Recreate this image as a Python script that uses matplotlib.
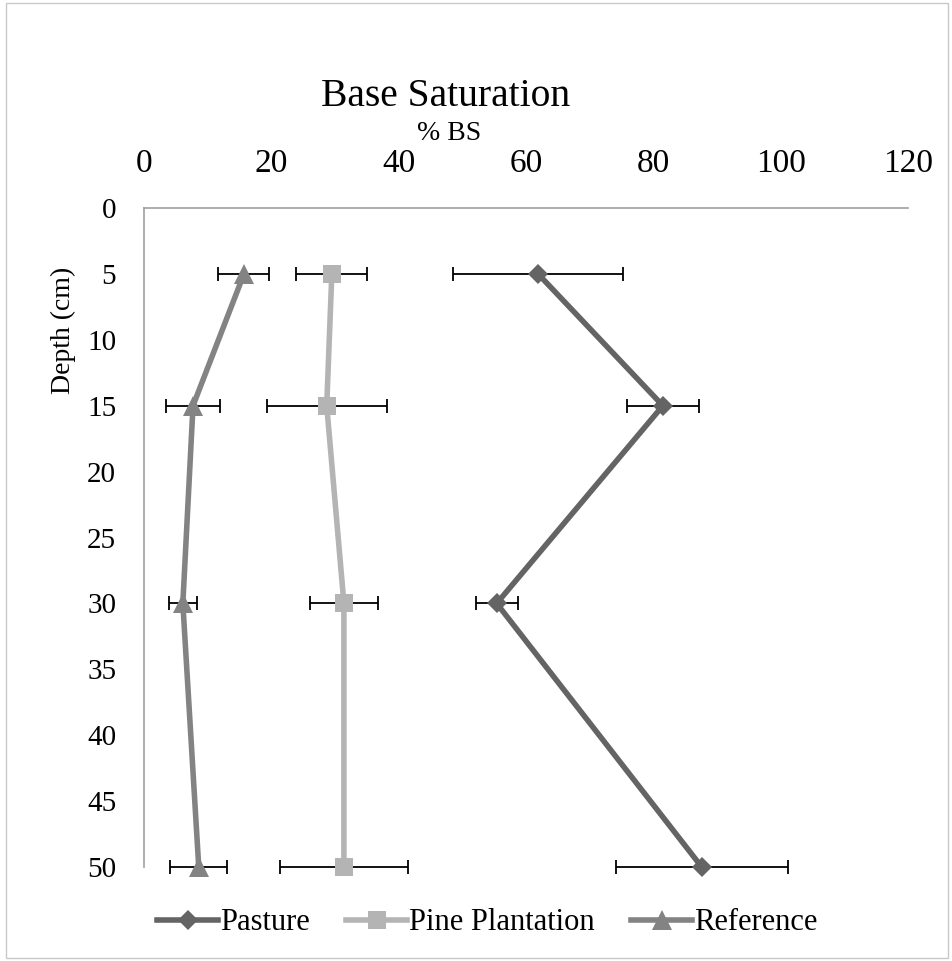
import numpy as np
import matplotlib
matplotlib.use("Agg")
import matplotlib.pyplot as plt
from matplotlib.patches import Rectangle

depth = [5, 15, 30, 50]

pasture = [61.9, 81.5, 55.4, 87.6]
pasture_err = [13.4, 5.6, 3.3, 13.5]

pine = [29.5, 28.7, 31.4, 31.4]
pine_err = [5.6, 9.4, 5.4, 10.0]

reference = [15.7, 7.7, 6.1, 8.6]
reference_err = [4.0, 4.2, 2.2, 4.5]

x_ticks = [0, 20, 40, 60, 80, 100, 120]
y_ticks = [0, 5, 10, 15, 20, 25, 30, 35, 40, 45, 50]

plt.rcParams["font.family"] = ["Liberation Serif", "DejaVu Serif"]

fig = plt.figure(figsize=(9.52, 9.61), dpi=100)
ax = fig.add_axes([144 / 952, 1 - 867 / 961, (908 - 144) / 952, (867 - 208) / 961])

series = [
    ("Pasture", pasture, pasture_err, "#646464", "D", 10),
    ("Pine Plantation", pine, pine_err, "#b4b4b4", "s", 13),
    ("Reference", reference, reference_err, "#838383", "^", 14),
]
handles = []
for name, vals, err, col, mk, ms in series:
    eb = ax.errorbar(vals, depth, xerr=err, fmt="none", ecolor="black",
                     elinewidth=1.3, capsize=5, capthick=1.3, zorder=2)
    for art in eb.get_children():
        art.set_clip_on(False)
    h, = ax.plot(vals, depth, color=col, linewidth=4, marker=mk,
                 markersize=ms, markeredgewidth=0, label=name, zorder=3,
                 clip_on=False)
    handles.append(h)

ax.set_xlim(0, 120)
ax.set_ylim(50, 0)
ax.set_xticks(x_ticks)
ax.set_yticks(y_ticks)
ax.xaxis.tick_top()
ax.tick_params(axis="x", length=0, pad=21, labelsize=24)
ax.tick_params(axis="y", length=0, pad=20, labelsize=21)
for s in ["right", "bottom"]:
    ax.spines[s].set_visible(False)
for s in ["top", "left"]:
    ax.spines[s].set_color("#a0a0a0")
    ax.spines[s].set_linewidth(1.2)

fig.text(446 / 952, 1 - 97 / 961, "Base Saturation", ha="center", va="center", fontsize=28.5)
fig.text(449 / 952, 1 - 133 / 961, "% BS", ha="center", va="center", fontsize=20)
fig.text(63 / 952, 1 - 330 / 961, "Depth (cm)", ha="center", va="center",
         rotation=90, fontsize=20)

fig.legend(handles=handles, loc="center", bbox_to_anchor=(487 / 952, 1 - 923 / 961),
           ncol=3, frameon=False, fontsize=22, handlelength=2.0,
           handletextpad=0.05, columnspacing=1.2)

fig.patches.append(Rectangle((0.006, 0.003), 0.99, 0.994, transform=fig.transFigure,
                             fill=False, edgecolor="#c8c8c8", linewidth=1))

fig.savefig("out.png", dpi=100)
